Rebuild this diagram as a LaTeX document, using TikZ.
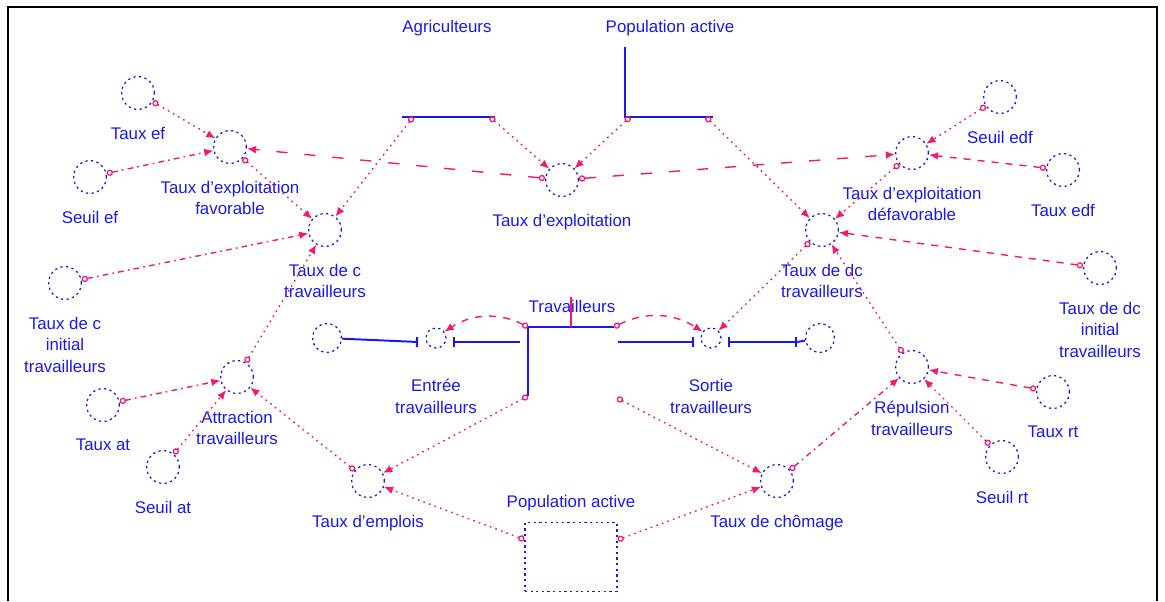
\documentclass[tikz,border=0pt]{standalone}
\usepackage{fontspec}
\setmainfont{Liberation Sans}
\usetikzlibrary{graphs,arrows.meta}

\definecolor{varblue}{RGB}{25,25,235}
\definecolor{linkpink}{RGB}{245,25,110}

\tikzset{
  aux/.style={circle,draw=varblue,line width=0.9pt,dash pattern=on 1.6pt off 2.4pt,
              minimum size=0.82cm,inner sep=0pt},
  valve/.style={minimum size=0.5cm},
  box/.style={rectangle,minimum width=2.3cm,minimum height=1.72cm},
  cloud/.style={circle,draw=varblue,line width=0.9pt,dash pattern=on 1.6pt off 2.4pt,
              minimum size=0.72cm,inner sep=0pt},
  txt/.style={text=varblue,inner sep=1pt},
  flow/.style={draw=varblue,line width=1.4pt},
  lnk/.style={draw=linkpink,line width=1pt,
              {Circle[open,length=4.5pt,line width=0.9pt]}-{Latex[length=6.5pt,width=5.5pt]}},
  dotlnk/.style={lnk,dash pattern=on 1.2pt off 3pt},
  dashlnk/.style={lnk,dash pattern=on 5pt off 5pt},
  longlnk/.style={lnk,dash pattern=on 8pt off 12pt},
  dashdotlnk/.style={lnk,dash pattern=on 4pt off 3pt on 1.2pt off 3pt},
}

\begin{document}
\begin{tikzpicture}[x=0.025cm,y=-0.025cm,font=\fontsize{12}{15.5}\selectfont,
  label distance=0.38cm,
  every label/.style={text=varblue,align=center,inner sep=1pt}]
\useasboundingbox (0,0) rectangle (1165,601);
\draw[line width=1.3pt] (8,601) |- (1157,7) -- (1157,601);

% stocks and flows
\node[txt] (Agriculteurs)     at (447,28)  {Agriculteurs};
\node[txt] (PopulationActive) at (670,28)  {Population active};
\node[txt] (Travailleurs)     at (572,306) {Travailleurs};
\node[cloud] (CloudIn)  at (327,338) {};
\node[cloud] (CloudOut) at (820,338) {};

\coordinate (agA)  at (402,117);
\coordinate (agB)  at (495,117);
\coordinate (agL)  at (413,117);
\coordinate (agR)  at (490,117);
\coordinate (popT) at (625,47);
\coordinate (popE) at (713,117);
\coordinate (popL) at (630,117);
\coordinate (popR) at (706,117);
\coordinate (entA) at (418,342);
\coordinate (entB) at (453,342);
\coordinate (entC) at (520,342);
\coordinate (sorA) at (618,342);
\coordinate (sorB) at (694,342);
\coordinate (sorC) at (728,342);
\coordinate (sorD) at (797,342);
\coordinate (stkL) at (528,327);
\coordinate (stkR) at (614,327);
\coordinate (stkB) at (528,396);
\coordinate (stkO) at (617,398);
\coordinate (trvA) at (571,297);
\coordinate (trvB) at (571,327);

\draw[flow] (agA) -- (agB);
\draw[flow] (popT) |- (popE);
\draw[flow,-{Bar[width=7pt]}] (CloudIn) -- (entA);
\draw[flow,{Bar[width=7pt]}-] (entB) -- (entC);
\draw[flow] (stkB) |- (stkR);
\draw[flow,-{Bar[width=7pt]}] (sorA) -- (sorB);
\draw[flow,{Bar[width=7pt]}-{Bar[width=7pt]}] (sorC) -- (sorD);
\draw[flow] (sorD) -- (CloudOut);
\draw[linkpink,line width=1pt] (trvA) -- (trvB);

% auxiliaries and links
\graph [no placement, nodes={aux}]
{
         TauxEf[x= 138,y= 93,as=,label=below:{Taux ef}],
        SeuilEf[x=  90,y=177,as=,label=below:{Seuil ef}],
    TauxExplFav[x= 230,y=147,as=,label=below:{Taux d'exploitation\\favorable}],
       TauxExpl[x= 562,y=180,as=,label=below:{Taux d'exploitation}],
    TauxExplDef[x= 912,y=153,as=,label=below:{Taux d'exploitation\\défavorable}],
       SeuilEdf[x=1000,y= 97,as=,label=below:{Seuil edf}],
        TauxEdf[x=1063,y=170,as=,label=below:{Taux edf}],
          TauxC[x= 325,y=230,as=,label=below:{Taux de c\\travailleurs}],
         TauxDc[x= 822,y=230,as=,label=below:{Taux de dc\\travailleurs}],
      TauxCInit[x=  65,y=283,as=,label=below:{Taux de c\\initial\\travailleurs}],
     TauxDcInit[x=1100,y=268,as=,label=below:{Taux de dc\\initial\\travailleurs}],
     Attraction[x= 237,y=377,as=,label=below:{Attraction\\travailleurs}],
      Repulsion[x= 912,y=367,as=,label=below:{Répulsion\\travailleurs}],
         TauxAt[x= 103,y=405,as=,label=below:{Taux at}],
        SeuilAt[x= 163,y=467,as=,label=below:{Seuil at}],
         TauxRt[x=1053,y=392,as=,label=below:{Taux rt}],
        SeuilRt[x=1002,y=457,as=,label=below:{Seuil rt}],
    TauxEmplois[x= 368,y=481,as=,label=below:{Taux d'emplois}],
    TauxChomage[x= 777,y=481,as=,label=below:{Taux de chômage}],
         Entree[x= 436,y=338,as=,valve,label={[label distance=0.72cm]below:{Entrée\\travailleurs}}],
         Sortie[x= 711,y=338,as=,valve,label={[label distance=0.72cm]below:{Sortie\\travailleurs}}],
         PopBox[x= 571,y=557,as=,box,label={[label distance=0.22cm]above:{Population active}}],

  TauxEf      ->[dotlnk]     TauxExplFav,
  SeuilEf     ->[dashdotlnk] TauxExplFav,
  TauxExpl    ->[longlnk]    TauxExplFav,
  TauxExpl    ->[longlnk]    TauxExplDef,
  TauxExplFav ->[dotlnk]     TauxC,
  (agL)       ->[dotlnk]     TauxC,
  (agR)       ->[dotlnk]     TauxExpl,
  (popL)      ->[dotlnk]     TauxExpl,
  (popR)      ->[dotlnk]     TauxDc,
  TauxCInit   ->[dashdotlnk] TauxC,
  SeuilEdf    ->[dotlnk]     TauxExplDef,
  TauxEdf     ->[dashlnk]    TauxExplDef,
  TauxExplDef ->[dotlnk]     TauxDc,
  TauxDcInit  ->[dashlnk]    TauxDc,
  Attraction  ->[dotlnk]     TauxC,
  Repulsion   ->[dotlnk]     TauxDc,
  TauxDc      ->[dotlnk]     Sortie,
  TauxAt      ->[dashdotlnk] Attraction,
  SeuilAt     ->[dotlnk]     Attraction,
  TauxEmplois ->[dotlnk]     Attraction,
  TauxChomage ->[dashdotlnk] Repulsion,
  TauxRt      ->[dashlnk]    Repulsion,
  SeuilRt     ->[dotlnk]     Repulsion,
  (stkL)      ->[dashlnk,bend right=30] Entree,
  (stkR)      ->[dashlnk,bend left=30]  Sortie,
  (stkB)      ->[dotlnk]     TauxEmplois,
  (stkO)      ->[dotlnk]     TauxChomage,
  PopBox      ->[dotlnk]     TauxEmplois,
  PopBox      ->[dotlnk]     TauxChomage
};
\end{tikzpicture}
\end{document}
